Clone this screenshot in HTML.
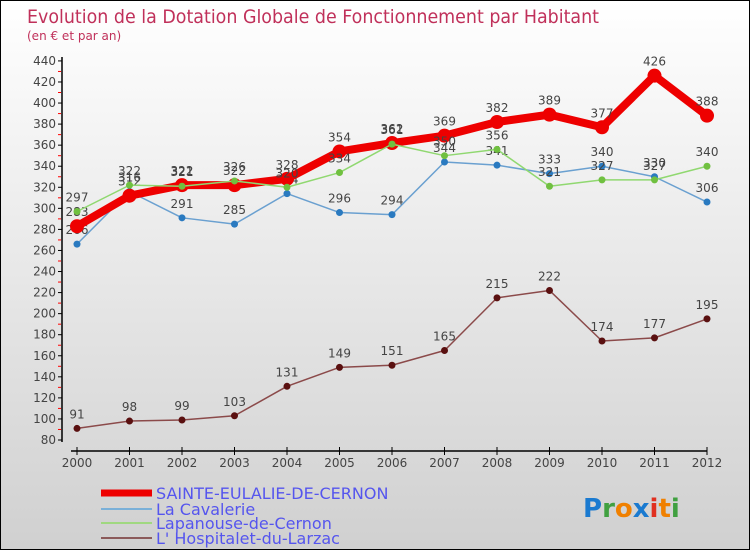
<!DOCTYPE html>
<html><head><meta charset="utf-8"><style>
body{margin:0}
#wrap{position:relative;width:748px;height:548px;border:1px solid #000;background:linear-gradient(#ffffff,#d0d0d0);font-family:"DejaVu Sans","Liberation Sans",sans-serif;overflow:hidden}
svg{position:absolute;left:0;top:0}
</style></head><body>
<div id="wrap">
<svg id="chart" width="748" height="548">
<text x="26" y="22" font-size="19" fill="#c0305a" textLength="572" lengthAdjust="spacingAndGlyphs">Evolution de la Dotation Globale de Fonctionnement par Habitant</text>
<text x="26" y="39" font-size="12" fill="#c0305a">(en € et par an)</text>
</svg>
</div>
<script>
const years=[2000,2001,2002,2003,2004,2005,2006,2007,2008,2009,2010,2011,2012];
const sainte=[283,312,322,322,328,354,362,369,382,389,377,426,388];
const cavalerie=[266,316,291,285,314,296,294,344,341,333,340,330,306];
const lapanouse=[297,322,321,326,320,334,361,350,356,321,327,327,340];
const hospitalet=[91,98,99,103,131,149,151,165,215,222,174,177,195];
const yTicks=[80,100,120,140,160,180,200,220,240,260,280,300,320,340,360,380,400,420,440];
const NS='http://www.w3.org/2000/svg';
const svg=document.getElementById('chart');
function x(i){return 76+i*52.5;}
function y(v){return 439-(v-80)*21.06/20;}
function mk(t,a,p){const e=document.createElementNS(NS,t);for(const k in a)e.setAttribute(k,a[k]);(p||svg).appendChild(e);return e;}
// axes
const ya=mk('line',{x1:61,y1:56,x2:61,y2:441,stroke:'#000','stroke-width':1.5});


const xa=mk('line',{x1:70,y1:450,x2:706,y2:450,stroke:'#000','stroke-width':1.5});


yTicks.forEach((v,i)=>{
  mk('line',{x1:57,y1:y(v),x2:61,y2:y(v),stroke:'#000'});
  if(i<yTicks.length-1)mk('line',{x1:57,y1:y(v+10),x2:60,y2:y(v+10),stroke:'#f00'});
  const t=mk('text',{x:55,y:y(v)+4,'font-size':12,fill:'#444','text-anchor':'end'});
  t.textContent=v;
  
  
});
years.forEach((yr,i)=>{
  mk('line',{x1:x(i),y1:446,x2:x(i),y2:454,stroke:'#000'});
  const t=mk('text',{x:x(i),y:466,'font-size':12,fill:'#444','text-anchor':'middle'});
  t.textContent=yr;
  
  
});
function series(data,color,w,r,dot,name){
  const g=mk('g',{});
  
  
  mk('polyline',{points:data.map((v,i)=>x(i)+','+y(v)).join(' '),fill:'none',stroke:color,'stroke-width':w,'stroke-linejoin':'round'},g);
  data.forEach((v,i)=>{
    const c=mk('circle',{cx:x(i),cy:y(v),r:r,fill:dot},g);
    
    
    const t=mk('text',{x:x(i),y:y(v)-10,'font-size':12,fill:'#444','text-anchor':'middle'},g);
    t.textContent=v;
    
    
  });
}
series(hospitalet,'#8b4a4a',1.5,3.5,'#5a1010','series-hospitalet');
series(cavalerie,'#6aa0d0',1.5,3.5,'#2a7ac0','series-cavalerie');
series(sainte,'#ee0000',8,7,'#ee0000','series-sainte-eulalie');
series(lapanouse,'#90d870',1.5,3.5,'#70c040','series-lapanouse');
// legend
const leg=[['SAINTE-EULALIE-DE-CERNON','#ee0000',7,492,16],['La Cavalerie','#7ab0d8',2,508,16],['Lapanouse-de-Cernon','#a0d880',2,522,16],["L' Hospitalet-du-Larzac",'#8b5a5a',2,537,16]];
leg.forEach(l=>{
  const g=mk('g',{});
  
  
  mk('line',{x1:100,y1:l[3],x2:151,y2:l[3],stroke:l[1],'stroke-width':l[2]},g);
  const t=mk('text',{x:155,y:l[3]+6,'font-size':l[4],fill:'#5555ee'},g);
  t.textContent=l[0];
});
// logo
const logo=mk('text',{x:582,y:516,'font-size':26,'font-weight':'bold'});


[['P','#1a7ad0'],['r','#40a040'],['o','#f08000'],['x','#1a7ad0'],['i','#e03020'],['t','#f08000'],['i','#40a040']].forEach(c=>{const s=mk('tspan',{fill:c[1]},logo);s.textContent=c[0];});
</script>
</body></html>
